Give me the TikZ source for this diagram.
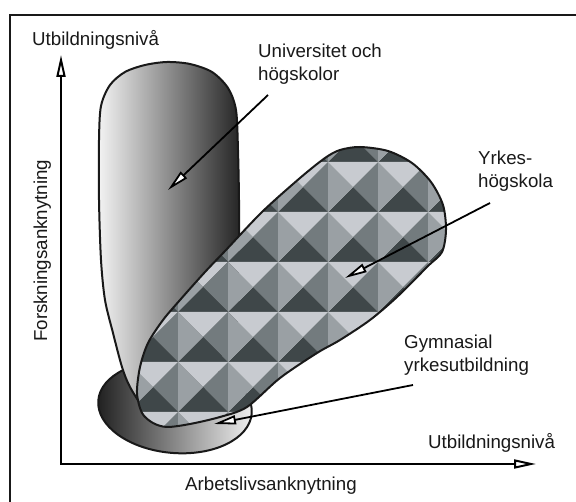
\documentclass[tikz,border=0pt]{standalone}
\usepackage{fontspec}
\setmainfont{Liberation Sans}
\usetikzlibrary{arrows.meta}
\definecolor{tlight}{HTML}{C8CBD0}
\definecolor{tleft}{HTML}{9AA0A4}
\definecolor{tright}{HTML}{737B7E}
\definecolor{tdark}{HTML}{3F4749}
\begin{document}
\begin{tikzpicture}[x=1pt,y=-1pt,
  lbl/.style={font=\fontsize{18.7}{22.5}\selectfont, inner sep=0pt, align=left, text=black!90},
  outline/.style={line width=2pt, draw=black!90, line join=round},
  axisarrow/.style={line width=2pt, line join=miter, {Triangle[length=22pt,width=9pt,fill=white]}-{Triangle[length=22pt,width=9pt,fill=white]}},
  callout/.style={line width=1.8pt, -{Triangle[length=22pt,width=9pt,fill=white]}}]
\fill[white] (0,0) rectangle (576,502);
\useasboundingbox (0,0) rectangle (576,502);
% frame
\draw[line width=2.2pt, draw=black!90] (10,502) -- (10,15) -- (576,15);
% Gymnasial ellipse
\begin{scope}[rotate around={-5:(175,407)}]
  \shade[left color=black!88, right color=black!5] (175,407) ellipse [x radius=77, y radius=46];
  \draw[outline] (175,407) ellipse [x radius=77, y radius=46];
\end{scope}
% Universitet shape
\shade[left color=black!5, right color=black!85]
  plot[smooth] coordinates {(163,426) (145,410) (130,387) (122,367) (113,333) (105,300) (101,260) (99,200) (99,140) (101,106) (110,85) (125,72) (145,65) (167,62) (190,64) (212,72) (228,88) (236,110) (238,150) (239,200) (239,250)}
  -- (239,320) -- (200,400) -- cycle;
\draw[outline]
  plot[smooth] coordinates {(163,426) (145,410) (130,387) (122,367) (113,333) (105,300) (101,260) (99,200) (99,140) (101,106) (110,85) (125,72) (145,65) (167,62) (190,64) (212,72) (228,88) (236,110) (238,150) (239,200) (239,250)};
% Yrkeshogskola shape
\begin{scope}
  \clip plot[smooth cycle] coordinates {(360,147) (388,151) (412,163) (431,182) (443,205) (446,230) (442,252) (428,266) (397,297) (370,320) (340,340) (317,353) (280,378) (247,407) (220,417) (190,424) (167,427) (153,423) (142,413) (137,393) (140,367) (148,343) (163,320) (180,300) (205,272) (226,250) (262,212) (300,178) (325,158) (340,150)};
  \foreach \i in {0,...,6}{\foreach \j in {0,...,6}{
    \begin{scope}[shift={({128+50*\i},{112+50*\j})}]
      \fill[tlight] (0,0) -- (50,0) -- (25,25) -- cycle;
      \fill[tright] (50,0) -- (50,50) -- (25,25) -- cycle;
      \fill[tdark] (0,50) -- (50,50) -- (25,25) -- cycle;
      \fill[tleft] (0,0) -- (0,50) -- (25,25) -- cycle;
    \end{scope}}}
\end{scope}
\draw[outline] plot[smooth cycle] coordinates {(360,147) (388,151) (412,163) (431,182) (443,205) (446,230) (442,252) (428,266) (397,297) (370,320) (340,340) (317,353) (280,378) (247,407) (220,417) (190,424) (167,427) (153,423) (142,413) (137,393) (140,367) (148,343) (163,320) (180,300) (205,272) (226,250) (262,212) (300,178) (325,158) (340,150)};
% axes
\coordinate (O) at (61,464);
\coordinate (Ytip) at (61,55);
\coordinate (Xtip) at (536,464);
\draw[axisarrow] (Ytip) -- (O) -- (Xtip);
% callouts
\coordinate (uniS) at (268,95);  \coordinate (uniT) at (168,190);
\coordinate (yrkS) at (490,203); \coordinate (yrkT) at (345,278);
\coordinate (gymS) at (413,385); \coordinate (gymT) at (214,424);
\draw[callout] (uniS) -- (uniT);
\draw[callout] (yrkS) -- (yrkT);
\draw[callout] (gymS) -- (gymT);
% labels
\node[lbl, anchor=base west] (ylab) at (32,46) {Utbildningsnivå};
\node[lbl, anchor=north west] (uni) at (258,44) {Universitet och\\högskolor};
\node[lbl, anchor=north west] (yrk) at (478,151) {Yrkes-\\högskola};
\node[lbl, anchor=north west] (gym) at (404,335) {Gymnasial\\yrkesutbildning};
\node[lbl, anchor=base west] (xlab) at (428,449) {Utbildningsnivå};
\node[lbl, anchor=base west] (alab) at (185,491) {Arbetslivsanknytning};
\node[lbl, anchor=base west, rotate=90] (flab) at (47,342) {Forskningsanknytning};
\end{tikzpicture}
\end{document}
